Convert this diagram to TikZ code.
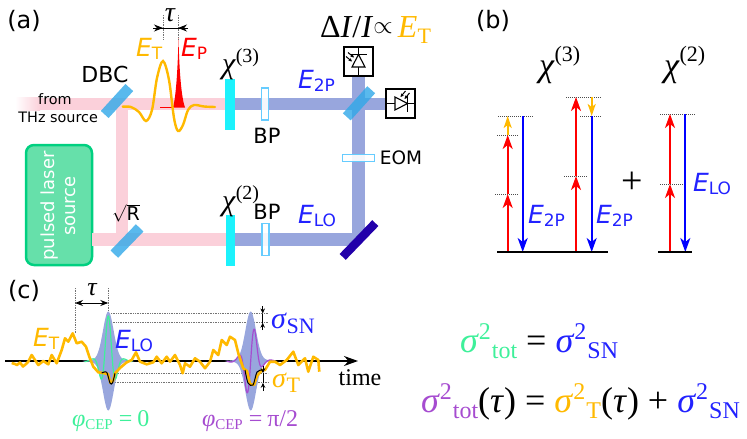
\documentclass[tikz,border=0pt]{standalone}
\usepackage{fontspec}
\setmainfont{Liberation Serif}
\newfontfamily\sansf{DejaVu Sans}
\usetikzlibrary{arrows.meta,calc}
\newcommand\sz[1]{\fontsize{#1}{#1}\selectfont}
\newcommand\fieldE[3]{{\color{#1}\sansf\sz{25}\textit{E}\raisebox{-3.5pt}{\sz{17}#2}#3}}
\definecolor{pinkbeam}{HTML}{FBD0DA}
\definecolor{bluebeam}{HTML}{98A6DD}
\definecolor{amber}{HTML}{FFB900}
\definecolor{cyanplate}{HTML}{1CF2FC}
\definecolor{platerim}{HTML}{66CCFF}
\definecolor{splitter}{HTML}{2FA8E8}
\definecolor{mirrorblue}{HTML}{2200AA}
\definecolor{lasergreen}{HTML}{00D080}
\definecolor{laserfill}{HTML}{66E0AA}
\definecolor{pureblue}{HTML}{2222FF}
\definecolor{tealgreen}{HTML}{3EF09A}
\definecolor{violet}{HTML}{A64CD0}
\tikzset{
  pinkray/.style={line width=12.5pt,pinkbeam},
  blueray/.style={line width=12.5pt,bluebeam},
  crystal/.style={fill=cyanplate,inner sep=0pt,minimum width=9.5pt},
  bandpass/.style={draw=platerim,fill=white,fill opacity=.9,line width=1.2pt,inner sep=0pt,minimum width=7pt,minimum height=32pt},
  splitplate/.style={fill=splitter,fill opacity=.8,inner sep=0pt,minimum width=36.5pt,minimum height=10.5pt},
  txt/.style={inner sep=0pt,outer sep=0pt},
  sanslabel/.style={txt,font=\sansf\sz{21}},
  upred/.style={red,line width=1.8pt,-{Stealth[length=14pt,width=10pt,inset=4pt]}},
  downblue/.style={blue,line width=1.8pt,-{Stealth[length=14pt,width=10pt,inset=4pt]}},
  ambertip/.style={amber,line width=1.8pt,-{Stealth[length=12pt,width=8pt,inset=3pt]}},
  level/.style={densely dotted,line width=1pt,black!70},
  ground/.style={line width=2pt,black},
  guide/.style={densely dotted,line width=.7pt,black!55},
  span/.style={black,line width=.9pt,-{Stealth[length=5pt,width=4.5pt]}},
  photodiode/.pic={
    \draw[black,line width=1.1pt,fill=white] (-14.5,-14.5) rectangle (14.5,14.5);
    \draw[black,line width=1.1pt] (0,-14.5) -- (0,14.5) (-7.5,-7) -- (8,-7);
    \draw[black,line width=1.1pt,fill=white] (0,-7) -- (6.5,5.5) -- (-6.5,5.5) -- cycle;
    \draw[black,line width=1pt,-{Stealth[length=3.5pt,width=3.5pt]}] (-12.5,-5) -- (-6.5,0);
    \draw[black,line width=1pt,-{Stealth[length=3.5pt,width=3.5pt]}] (-10.5,-9) -- (-4.5,-4);
  }
}
\begin{document}
\begin{tikzpicture}[x=1pt,y=-1pt]
\useasboundingbox (0,0) rectangle (747,439);

% ---- panel (a): beam paths ----
\coordinate (dbc) at (117,104);
\coordinate (rsplit) at (122,239.5);
\coordinate (thz) at (40,104);
\coordinate (thzfade) at (15,104);
\coordinate (chiA) at (230,104);
\coordinate (chiB) at (230,239.5);
\coordinate (bs) at (358.5,104);
\coordinate (foldm) at (358.5,239.5);

\node[txt,minimum width=66pt,minimum height=120pt,rounded corners=8pt,draw=lasergreen,line width=2.5pt,fill=laserfill] (laser) at (59,205) {};
\fill[left color=white,right color=pinkbeam,shading angle=90] (thzfade)++(0,-6.25) rectangle (40,110.25);
\draw[pinkray] (thz) -- (chiA);
\draw[pinkray] (laser.east |- rsplit) -- (chiB);
\draw[pinkray,line cap=butt] (122,104) -- (rsplit);
\draw[blueray] (chiA) -- (bs);
\draw[blueray] (chiB) -- (foldm);
\draw[blueray] (foldm) -- (358.5,75);
\draw[blueray] (bs) -- (388,104);

\node[txt,rotate=90,align=center,white,font=\sansf\fontsize{18}{21}\selectfont,text width=112pt] (lasertext) at (58,206) {pulsed laser\\source};

\node[splitplate,rotate=47.6] (dbcplate) at (117,101) {};
\node[splitplate,rotate=46] (rplate) at (127,241) {};
\node[splitplate,rotate=48] (bsplate) at (359,103.3) {};
\node[fill=mirrorblue,inner sep=0pt,minimum width=47pt,minimum height=8.5pt,rotate=46] (foldplate) at (359,240) {};

\node[crystal,minimum height=51pt] (cryA) at (230.2,104.5) {};
\node[crystal,minimum height=51pt] (cryB) at (230.5,240.5) {};
\node[bandpass] (bpA) at (265,104) {};
\node[bandpass] (bpB) at (265.5,239.5) {};
\node[draw=platerim,fill=white,fill opacity=.9,line width=1.2pt,inner sep=0pt,minimum width=32pt,minimum height=7pt] (eom) at (358.5,158) {};

\pic (detA) at (358.5,61.5) {photodiode};
\pic[rotate=-90] (detB) at (400.5,103.5) {photodiode};

% THz and probe pulses on the upper beam
\draw[red,line width=.7pt] (160,107) -- (173,107);
\fill[red] (173,107.5) .. controls (176.5,95) and (178,60) .. (178.5,38) .. controls (179,60) and (180.5,95) .. (185,107.5) -- cycle;
\draw[amber,line width=2.4pt,line cap=round] plot[smooth,tension=.55] coordinates {(122.7,106.7) (131,107) (139,112) (146,121) (152,110) (157,78) (163,61) (169,80) (174,118) (178,131) (183,125) (188,110) (194,105) (204,106.5) (215,107)};
\draw[guide] (163,15) -- (163,39) (178,15) -- (178,39);
\draw[black,line width=1pt] (153,28) -- (188,28);
\draw[span,-{Stealth[length=9pt,width=7pt]}] (153,28) -- (163,28);
\draw[span,-{Stealth[length=9pt,width=7pt]}] (188,28) -- (178,28);

% Panel (a) text
\node[txt,font=\sansf\sz{24}] (la) at (24,21) {(a)};
\node[sanslabel,font=\sansf\sz{22}] (ldbc) at (105,74) {DBC};
\node[txt,font=\sansf\sz{14.4}] (lfrom) at (55,99) {from};
\node[txt,font=\sansf\sz{14.4},anchor=east] (lthz) at (98,117) {THz source};
\node[txt,font=\itshape\sz{28}] (ltauA) at (170,15) {τ};
\node[txt,anchor=base west] (lET) at (136,56) {\fieldE{amber}{T}{}};
\node[txt,anchor=base west] (lEP) at (181,56) {\fieldE{red}{P}{}};
\node[txt,anchor=base west] (lchiA) at (222,73) {\sz{30}\textit{χ}\raisebox{11pt}{\sz{20}(3)}};
\node[txt,anchor=base west] (lchiB) at (222,210) {\sz{30}\textit{χ}\raisebox{11pt}{\sz{20}(2)}};
\node[sanslabel] (lbpA) at (267,136) {BP};
\node[sanslabel] (lbpB) at (267,212) {BP};
\node[sanslabel,font=\sansf\sz{18.5}] (leom) at (401,158) {EOM};
\node[txt,anchor=base west] (lE2p) at (298,88) {\fieldE{pureblue}{2P}{}};
\node[txt,anchor=base west] (lElo) at (298,223) {\fieldE{pureblue}{LO}{}};
\node[txt,font=\sansf\sz{19}] (lroot) at (126,213) {$\sqrt{\hbox{\sansf\sz{19}R}}$};
\node[txt,anchor=base west] (ldelta) at (320,37) {\sz{32}Δ\textit{I}/\textit{I}\raisebox{4pt}{\sz{30}$\propto$}\,{\color{amber}\textit{E}\raisebox{-6pt}{\sz{22}T}}};

% ---- panel (b): level diagrams ----
\node[txt,font=\sansf\sz{24}] (lb) at (493,21) {(b)};
\node[txt,anchor=base west] (bchiA) at (539,76) {\sz{34}\textit{χ}\raisebox{15pt}{\sz{22}(3)}};
\node[txt,anchor=base west] (bchiB) at (664,76) {\sz{34}\textit{χ}\raisebox{15pt}{\sz{22}(2)}};

\coordinate (gA1) at (507.7,252);
\coordinate (gA2) at (522.7,252);
\coordinate (gB1) at (576,252);
\coordinate (gB2) at (591.7,252);
\coordinate (gC1) at (670,252);
\coordinate (gC2) at (685.3,252);

\draw[level] (495,194) -- (518,194) (497,135) -- (519,135) (498,116) -- (533,116);
\draw[level] (564,176) -- (587,176) (566,97) -- (602,97) (580,116) -- (602,116);
\draw[level] (660,184) -- (683,184) (660,114) -- (696,114);

\draw[upred] (gA1) -- (507.7,194);
\draw[upred] (507.7,194) -- (507.7,135);
\draw[ambertip] (507.7,135) -- (507.7,116);
\draw[downblue] (522.7,116) -- (gA2);
\draw[upred] (gB1) -- (576,176);
\draw[upred] (576,176) -- (576,97);
\draw[downblue] (591.7,116) -- (gB2);
\draw[ambertip] (591.7,97) -- (591.7,116);
\draw[upred] (gC1) -- (670,184);
\draw[upred] (670,184) -- (670,114);
\draw[downblue] (685.3,114) -- (gC2);
\draw[ground] (497,252) -- (608,252);
\draw[ground] (658,252) -- (692,252);

\node[txt,anchor=base west] (bE2pA) at (528,223) {\fieldE{pureblue}{2P}{}};
\node[txt,anchor=base west] (bE2pB) at (596,223) {\fieldE{pureblue}{2P}{}};
\node[txt,anchor=base west] (bElo) at (693,191) {\fieldE{pureblue}{LO}{}};
\node[txt,font=\sz{38}] (bplus) at (632,183) {+};

% ---- panel (c): time traces ----
\node[txt,font=\sansf\sz{24}] (lc) at (24,291) {(c)};
\coordinate (tstart) at (5,361);
\coordinate (tend) at (358,361);

\draw[guide] (111,313.5) -- (268,313.5) (111,322.7) -- (268,322.7) (115,373.2) -- (268,373.2) (103,382.8) -- (268,382.8);
\draw[guide] (75,288) -- (75,333) (108.3,288) -- (108.3,314);

\draw[black,line width=1.5pt,-{Stealth[length=14pt,width=10pt]}] (tstart) -- (tend);

% Local-oscillator envelopes and their carrier fields
\foreach \cx in {108.3,250.7}{
  \fill[bluebeam] plot[domain=-26:26,samples=90,smooth] ({\cx+\x},{361-47.5*exp(-\x*\x/56)-2*exp(-\x*\x/300)}) -- plot[domain=26:-26,samples=90,smooth] ({\cx+\x},{361+47.5*exp(-\x*\x/56)+2*exp(-\x*\x/300)}) -- cycle;
}
\draw[tealgreen,line width=1.2pt] plot[domain=-24:24,samples=200,smooth] ({108.3+\x},{361-(41*exp(-\x*\x/56)+4*exp(-\x*\x/300))*cos(360*\x/16.6)});
\draw[violet,line width=1.2pt] plot[domain=-24:24,samples=200,smooth] ({250.7+\x},{361-(36*exp(-\x*\x/56)+4*exp(-\x*\x/300))*sin(360*\x/16.6)});

% THz field trace with noise
\draw[amber,line width=2.6pt,line join=round] plot coordinates {
(11.7,363) (15,364) (17,365) (20,362.5) (23,366.5) (26,364) (28.3,361.7) (31.7,355) (35,360) (38.3,365) (43.3,361) (48.3,364.3) (51.7,355) (56.7,363.3) (61.7,350) (65,338.3) (68.3,341.7) (72.7,333.3) (76.7,343.3) (81.7,341.7) (86,346.7) (89.3,356.7) (93.3,366.7) (98.3,372.3) (103,373) (108,374) (110.5,383) (113,381) (115,373.3) (120,368) (126.7,362.3) (131.7,360) (136,352.3) (140,361.7) (146.7,364.3) (153.3,362.3) (156.7,356.7) (161.7,363.3) (166.7,356.7) (170,361.7) (175,355) (180,365) (182.7,373.3) (185,363.3) (190,366.7) (195,358.3) (200,361.7) (205,368.3) (210,361.7) (213.3,350) (218.3,355) (221.7,340) (226.7,345) (230,336.7) (235,340) (238.3,353.3) (243.3,368.3) (247,371) (250,384) (254,385) (257,376) (262,370) (265,370) (270,361.7) (275,361.7) (280,365) (286.7,360) (293.3,351.7) (298.3,365) (305,358.3) (308.3,371.7) (313.3,356.7) (318.3,360) (319.3,371.7)};
\draw[black,line width=1pt] plot[smooth,tension=.5] coordinates {(101.7,373) (106.7,372.3) (110,383) (112.5,383) (115,373.3)};
\draw[black,line width=1pt] plot[smooth,tension=.5] coordinates {(245,370) (248,383) (253,385) (257,372) (262,370)};

% Delay and noise-width markers
\draw[black,line width=.9pt,{Stealth[length=8pt,width=6pt]}-{Stealth[length=8pt,width=6pt]}] (75,303) -- (108.3,303);
\draw[span] (262.7,306) -- (262.7,313.5);
\draw[span] (262.7,330) -- (262.7,322.7);
\draw[black,line width=.9pt] (262.7,313.5) -- (262.7,322.7);
\draw[span] (263,366) -- (263,373.2);
\draw[span] (263,391) -- (263,382.8);
\draw[black,line width=.9pt] (263,373.2) -- (263,382.8);

% Panel (c) text
\node[txt,font=\itshape\sz{26}] (ltauC) at (92,290) {τ};
\node[txt,anchor=base west] (cET) at (33,346) {\fieldE{amber}{T}{}};
\node[txt,anchor=base west] (cElo) at (115,348) {\fieldE{pureblue}{LO}{}};
\node[txt,anchor=base west,color=pureblue] (cSN) at (271,328) {\sz{30}\textit{σ}\raisebox{-5pt}{\sz{22}SN}};
\node[txt,anchor=base west,color=amber] (cST) at (272,387) {\sz{28}\textit{σ}\raisebox{-5pt}{\sz{22}T}};
\node[txt,anchor=base] (ctime) at (360,385) {\sz{24}time};
\node[txt,anchor=base west,color=tealgreen] (cphiA) at (72,426) {\sz{24}\textit{φ}\raisebox{-3pt}{\sz{15}CEP}\hspace{6pt}=\hspace{5pt}0};
\node[txt,anchor=base west,color=violet] (cphiB) at (202,426) {\sz{24}\textit{φ}\raisebox{-3pt}{\sz{15}CEP}\hspace{6pt}=\hspace{5pt}π/2};

% Variance relations
\node[txt,anchor=base west] (eqA) at (460,352) {\sz{36}{\color{tealgreen}\textit{σ}\raisebox{13pt}{\sz{24}2}\raisebox{-6pt}{\sz{24}\hspace{1pt}tot}} = {\color{pureblue}\textit{σ}\raisebox{13pt}{\sz{24}2}\raisebox{-6pt}{\sz{24}\hspace{1pt}SN}}};
\node[txt,anchor=base west] (eqB) at (421,412) {\sz{36}{\color{violet}\textit{σ}\raisebox{13pt}{\sz{24}2}\raisebox{-6pt}{\sz{24}\hspace{1pt}tot}}(\textit{τ}) = {\color{amber}\textit{σ}\raisebox{13pt}{\sz{24}2}\raisebox{-6pt}{\sz{24}\hspace{1pt}T}}(\textit{τ}) + {\color{pureblue}\textit{σ}\raisebox{13pt}{\sz{24}2}\raisebox{-6pt}{\sz{24}\hspace{1pt}SN}}};
\end{tikzpicture}
\end{document}
